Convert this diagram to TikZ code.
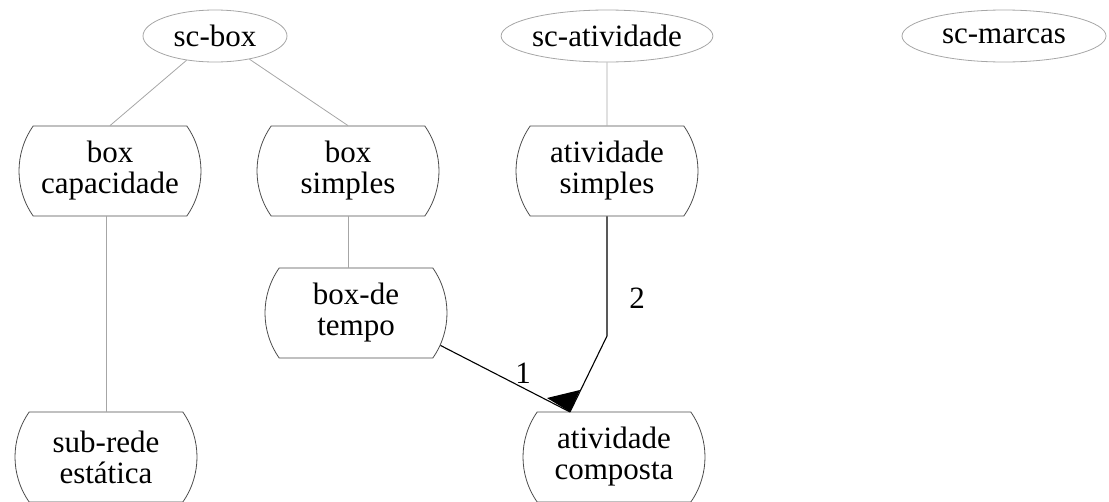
\documentclass[tikz,border=0pt]{standalone}
\usepackage{fontspec}
\setmainfont{Liberation Serif}
\usetikzlibrary{shapes.geometric, shapes.misc}

\begin{document}
\begin{tikzpicture}[x=1pt, y=-1pt,
    every node/.style={font=\fontsize{31}{31}\selectfont},
    classe/.style={ellipse, draw=gray!70, line width=0.8pt, inner sep=0pt, minimum height=52pt},
    caixa/.style={rounded rectangle, rounded rectangle arc length=70, draw=black!70, line width=0.8pt,
        align=center, inner sep=0pt, minimum width=182pt, minimum height=90pt},
    ramo/.style={draw=gray!70, line width=0.8pt},
    seta/.style={draw=black, line width=1.1pt}]
    \useasboundingbox (0,0) rectangle (1109,501);

    % Top row classes
    \node[classe, minimum width=144pt] (scbox) at (215,36) {sc-box};
    \node[classe, minimum width=186pt] (scativ) at (607,36) {sc-atividade};
    \node[classe, minimum width=204pt] (scmarcas) at (1004,36) {sc-marcas};

    % Boxes
    \node[caixa] (cap) at (110,171) {box\\capacidade};
    \node[caixa] (simp) at (348,171) {box\\simples};
    \node[caixa] (atsimp) at (607,171) {atividade\\simples};
    \node[caixa] (tempo) at (356,313) {box-de\\tempo};
    \node[caixa] (subrede) at (106,457) {sub-rede\\estática};
    \node[caixa] (comp) at (614,457) {atividade\\composta};

    % Tree lines
    \draw[ramo] (scbox) -- (cap.north);
    \draw[ramo] (scbox) -- (simp.north);
    \draw[ramo] (scativ) -- (atsimp);
    \draw[ramo] (subrede.north |- cap.south) -- (subrede.north);
    \draw[ramo] (simp.south) -- (simp.south |- tempo.north);

    % Links into atividade composta
    \coordinate (join) at (570,412);
    \coordinate (bend) at (607,336);
    \draw[seta] (tempo.-21) -- (join);
    \draw[seta] (atsimp.south) -- (bend) -- (join);
    \fill (join) -- ++(-23,-14) -- ++(33,-8) -- cycle;
    \node (um) at (523,373) {1};
    \node (dois) at (637,298) {2};
\end{tikzpicture}
\end{document}
